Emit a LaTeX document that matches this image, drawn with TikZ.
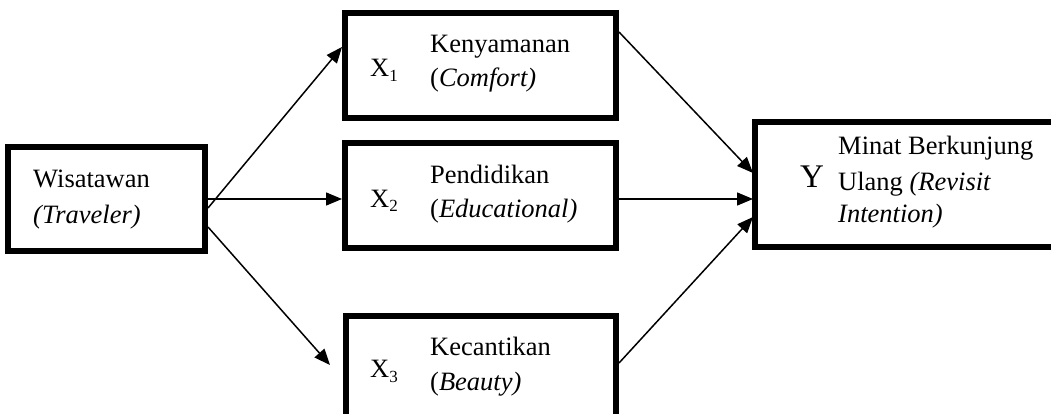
\documentclass[tikz,border=0pt]{standalone}
\usepackage{fontspec}
\setmainfont{Liberation Serif}
\usetikzlibrary{arrows.meta,calc}
\begin{document}
\begin{tikzpicture}[x=1pt,y=-1pt,
  box/.style={draw=black,line width=6pt,rectangle,inner sep=0pt,fill=white},
  txt/.style={inner sep=0pt,anchor=base west,font=\fontsize{26.5}{26.5}\selectfont},
  bigtxt/.style={inner sep=0pt,anchor=base west,font=\fontsize{33}{33}\selectfont},
  conn/.style={line width=1.5pt,-{Triangle[length=16pt,width=13pt]}}]
\useasboundingbox (0,0) rectangle (1051,414);
\newcommand{\subnum}[1]{\raisebox{-5pt}{\fontsize{17}{17}\selectfont #1}}
% boxes
\node[box,minimum width=197pt,minimum height=104pt] (w) at (106.5,199) {};
\node[box,minimum width=271pt,minimum height=105pt] (x1) at (480.5,65.5) {};
\node[box,minimum width=271pt,minimum height=105pt] (x2) at (480.5,195.5) {};
\node[box,minimum width=270pt,minimum height=105pt] (x3) at (481,368.5) {};
\node[box,minimum width=308pt,minimum height=125pt] (y) at (909,184.5) {};
% texts
\node[txt] (wt1) at (33,188) {Wisatawan};
\node[txt] (wt2) at (33,223) {\textit{(Traveler)}};
\node[txt] (x1l) at (370,77) {X\subnum{1}};
\node[txt] (x1a) at (430,53) {Kenyamanan};
\node[txt] (x1b) at (430,87) {(\textit{Comfort)}};
\node[txt] (x2l) at (370,207) {X\subnum{2}};
\node[txt] (x2a) at (430,183) {Pendidikan};
\node[txt] (x2b) at (430,217) {(\textit{Educational)}};
\node[txt] (x3l) at (370,377) {X\subnum{3}};
\node[txt] (x3a) at (430,355) {Kecantikan};
\node[txt] (x3b) at (430,390) {(\textit{Beauty)}};
\node[bigtxt] (yl) at (800,188) {Y};
\node[txt] (ya) at (838,155) {Minat Berkunjung};
\node[txt] (yb) at (838,190) {Ulang \textit{(Revisit}};
\node[txt] (yc) at (838,222) {\textit{Intention)}};
% connectors
\draw[conn] ($(w.east)+(0,9)$) -- ($(x1.west)+(0,-18.5)$);
\draw[conn] (w.east) -- (w.east -| x2.west);
\draw[conn] ($(w.east)+(0,28)$) -- ($(x3.west)+(-13,-3.5)$);
\draw[conn] ($(x1.east)+(0,-33.5)$) -- ($(y.west)+(1,-11.5)$);
\draw[conn] ($(x2.east)+(0,3.5)$) -- ($(y.west)+(1,14.5)$);
\draw[conn] ($(x3.east)+(0,-5.5)$) -- ($(y.west)+(1,32.5)$);
\end{tikzpicture}
\end{document}
